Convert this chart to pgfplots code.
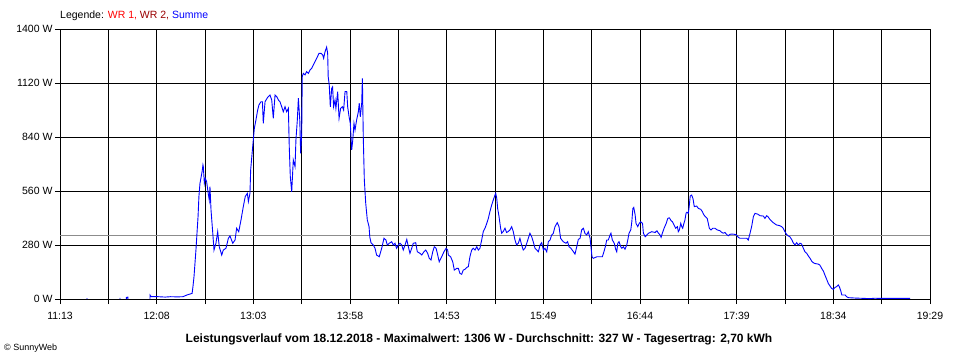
\documentclass[border=0pt]{standalone}
\usepackage{pgfplots}
\pgfplotsset{compat=1.18}
\usepackage{fontspec}
\setmainfont{Liberation Sans}
\definecolor{wrone}{HTML}{FF0000}
\definecolor{wrtwo}{HTML}{990000}
\definecolor{summe}{HTML}{0000FF}
\definecolor{avg}{HTML}{8C8C8C}
\begin{document}
\begin{tikzpicture}[x=1pt,y=1pt]
\useasboundingbox (0,0) rectangle (960,360);
\begin{axis}[
  at={(60pt,61pt)}, anchor=south west,
  scale only axis, width=870pt, height=270pt,
  xmin=673, xmax=1169, ymin=0, ymax=1400,
  xtick={673,728.111,783.222,838.333,893.444,948.556,1003.667,1058.778,1113.889,1169},
  xticklabels={11:13,12:08,13:03,13:58,14:53,15:49,16:44,17:39,18:34,19:29},
  minor xtick={700.556,755.667,810.778,865.889,921,976.111,1031.222,1086.333,1141.444},
  ytick={0,280,560,840,1120,1400},
  yticklabels={0 W,280 W,560 W,840 W,1120 W,1400 W},
  grid=both,
  major grid style={black,line width=0.9pt},
  minor grid style={black,line width=0.9pt},
  axis line style={black,line width=0.9pt},
  tick style={black,line width=0.9pt},
  tick align=outside,
  major tick length=5pt, minor tick length=5pt,
  xtick pos=bottom, ytick pos=left,
  ticklabel style={font=\fontsize{10.5}{12}\selectfont},
  xticklabel style={yshift=-5pt},
  yticklabel style={xshift=1pt},
  /pgf/number format/assume math mode=true,
  unbounded coords=jump,
  clip=true,
]
\addplot[avg, line width=0.9pt] coordinates {(673,327)(1169,327)};
\addplot[summe, line width=0.9pt] coordinates {
(688.4,0)(688.4,4) (nan,nan)
(707.2,0)(707.2,6) (nan,nan)
(710.8,0)(710.8,8)(711.7,10)(711.7,0) (nan,nan)
(724.3,0)(724.3,21)(725.0,12)(729,12)(733,10)(736,12)(740,11)(743.1,12)
(745.4,21)(748.3,29)(748.8,64)(749.4,116)(750.5,254)(751.1,341)(751.7,427)
(752.2,531)(752.8,600)(754.0,660)(754.5,695)(754.7,686)(755.3,600)(755.8,626)
(756.6,608)(757.5,548)(758.1,513)(758.5,582)(759.1,461)(760.1,341)(760.8,254)
(761.9,289)(762.9,349)(763.8,271)(765.2,228)(766.1,254)(767.6,263)(769.0,315)
(769.9,327)(771.5,289)(772.8,306)(773.7,367)(774.9,349)(776.2,410)(777.5,479)
(778.6,531)(779.8,548)(780.4,505)(781.3,548)(781.7,669)(782.6,764)(783.2,824)
(783.8,885)(784.7,928)(785.7,980)(786.4,1006)(787.6,1023)(788.4,1023)(788.9,911)
(789.9,1023)(791.4,1046)(792.7,1058)(793.7,1032)(794.6,937)(795.6,1058)(796.5,1050)
(797.5,1032)(798.4,1023)(799.4,997)(800.3,971)(801.3,997)(802.2,971)(803.2,989)
(803.7,790)(804.3,634)(805.1,556)(806.0,721)(807.0,686)(807.5,824)(808.3,928)
(808.9,1041)(809.7,928)(810.2,755)(810.8,859)(811.1,1153)(811.7,1170)(812.7,1162)
(813.6,1179)(814.6,1170)(815.5,1187)(816.5,1196)(817.4,1213)(818.4,1231)(819.3,1248)
(820.7,1274)(821.8,1274)(822.8,1265)(823.3,1248)(824.1,1282)(825.0,1306)(825.6,1274)
(825.9,1153)(826.5,1110)(827.1,997)(827.9,1092)(828.4,1100)(829.0,997)(829.8,1032)
(830.3,989)(831.3,1075)(832.1,937)(833.0,989)(834.0,997)(834.7,980)(835.5,1075)
(836.5,1075)(837.0,997)(837.8,945)(838.5,911)(839.3,773)(839.9,824)(840.6,911)
(841.2,876)(842.1,928)(843.1,971)(843.6,1015)(844.2,945)(845.0,1015)(845.4,1144)
(845.9,841)(846.5,617)(847.3,496)(848.2,410)(849.2,375)(849.6,323)(850.3,292)
(851.6,280)(852.6,263)(853.5,228)(855.0,219)(856.4,263)(857.7,315)(858.8,306)
(859.6,280)(860.7,289)(862.1,297)(863.0,280)(864.0,289)(864.9,263)(865.9,280)
(866.8,289)(867.8,280)(868.7,254)(869.7,280)(870.7,309)(871.6,271)(872.5,237)
(873.5,263)(874.4,289)(875.8,292)(876.7,245)(878.2,237)(879.2,228)(880.5,245)
(881.5,254)(882.6,237)(883.5,211)(884.5,202)(885.5,245)(886.4,271)(887.4,263)
(888.1,237)(889.2,193)(890.6,219)(891.9,245)(893.1,263)(894.0,254)(894.4,228)
(895.7,219)(896.9,193)(897.8,150)(899.2,159)(900.1,159)(901.0,133)(902.0,128)
(902.9,150)(903.9,154)(904.9,164)(905.8,168)(906.7,219)(907.7,254)(908.6,263)
(909.6,254)(910.6,271)(911.5,254)(912.4,263)(913.4,306)(914.3,349)(915.3,367)
(916.3,392)(917.2,418)(918.1,453)(919.1,487)(920.0,513)(921.0,539)(921.4,548)
(922.0,522)(922.5,470)(923.3,427)(924.2,367)(924.8,341)(925.7,350)(926.7,367)
(927.6,345)(928.6,350)(929.5,358)(930.5,375)(931.4,350)(932.4,306)(933.3,280)
(934.3,289)(935.2,315)(936.2,280)(937.1,254)(938.1,263)(939.1,289)(940.0,315)
(940.9,341)(941.9,323)(942.8,297)(943.8,263)(944.8,254)(945.7,245)(946.7,280)
(947.6,292)(948.6,254)(949.5,263)(950.5,245)(951.4,297)(952.4,306)(953.3,332)
(954.2,340)(955.2,375)(956.5,396)(957.5,375)(958.4,315)(959.9,297)(961.5,289)
(962.4,297)(963.2,271)(964.3,263)(965.7,245)(966.6,233)(967.6,271)(968.5,309)
(969.5,315)(970.4,358)(971.4,367)(972.3,340)(973.3,332)(974.2,349)(975.2,315)
(975.7,271)(976.3,219)(977.0,211)(979.1,219)(980.9,219)(982.2,219)(983.1,245)
(983.9,271)(984.7,306)(985.6,306)(986.6,332)(987.1,341)(987.9,306)(989.0,289)
(989.8,258)(990.4,245)(991.0,289)(991.7,297)(992.7,271)(993.3,263)(994.2,271)
(995.1,258)(996.1,280)(996.7,306)(997.4,341)(998.4,358)(999.0,401)(999.6,470)
(1000.1,475)(1000.9,436)(1001.4,392)(1002.4,375)(1003.2,392)(1004.1,401)(1005.1,392)
(1005.6,341)(1006.6,323)(1007.6,332)(1008.5,341)(1010.4,349)(1012.3,345)(1013.3,354)
(1014.2,341)(1015.1,332)(1015.7,320)(1016.4,341)(1017.4,367)(1018.6,392)(1019.5,418)
(1020.4,421)(1021.4,406)(1022.1,401)(1023.1,384)(1024.0,367)(1025.0,375)(1025.5,349)
(1026.1,358)(1026.9,392)(1027.5,375)(1028.0,367)(1028.7,392)(1029.3,410)(1029.9,444)
(1030.4,450)(1031.2,444)(1031.7,479)(1032.3,534)(1033.1,539)(1033.9,520)(1034.6,479)
(1036.0,482)(1036.9,470)(1038.3,465)(1039.2,453)(1040.1,436)(1041.1,425)(1042.0,418)
(1042.6,392)(1043.2,367)(1044.1,358)(1045.1,367)(1046.4,367)(1047.7,358)(1049.3,354)
(1050.2,346)(1051.1,341)(1052.1,345)(1053.0,335)(1054.0,328)(1054.9,335)(1055.9,337)
(1057.8,335)(1058.7,332)(1059.7,320)(1060.6,315)(1062.5,315)(1064.5,315)(1065.4,306)
(1065.8,320)(1066.4,341)(1067.3,375)(1068.3,427)(1069.2,444)(1070.8,440)(1072.1,432)
(1074.0,430)(1074.9,418)(1075.9,432)(1076.8,425)(1077.7,413)(1079.6,396)(1081.5,384)
(1083.4,380)(1084.4,375)(1085.3,367)(1086.3,349)(1087.2,335)(1088.2,327)(1089.1,323)
(1090.1,309)(1091.0,292)(1092.0,280)(1093.0,292)(1093.9,280)(1094.9,289)(1095.8,285)
(1096.8,263)(1097.7,245)(1098.7,237)(1099.6,224)(1100.6,211)(1101.5,197)(1102.5,188)
(1103.4,184)(1105.3,181)(1106.2,176)(1107.2,159)(1108.2,145)(1109.1,124)(1110.1,102)
(1111.0,81)(1112.0,67)(1112.9,55)(1113.9,50)(1114.8,60)(1115.8,64)(1116.7,73)
(1117.3,64)(1118.1,43)(1118.7,21)(1120.6,21)(1121.5,12)(1122.4,7)(1126.2,5)
(1131.9,3)(1134.8,2)(1137.6,4)(1140.5,3)(1149.0,3)(1157.6,3)
};
\end{axis}
\node[anchor=west, font=\fontsize{10.5}{12}\selectfont, inner sep=0pt] at (60,344)
  {Legende: \textcolor{wrone}{WR 1,} \textcolor{wrtwo}{WR 2,} \textcolor{summe}{Summe}};
\node[anchor=center, font=\bfseries\fontsize{12}{14}\selectfont, inner sep=0pt] at (479,21)
  {Leistungsverlauf vom 18.12.2018 - Maximalwert: 1306 W - Durchschnitt: 327 W - Tagesertrag: 2,70 kWh};
\node[anchor=west, font=\fontsize{9}{10}\selectfont, inner sep=0pt] at (4,12) {© SunnyWeb};
\end{tikzpicture}
\end{document}
